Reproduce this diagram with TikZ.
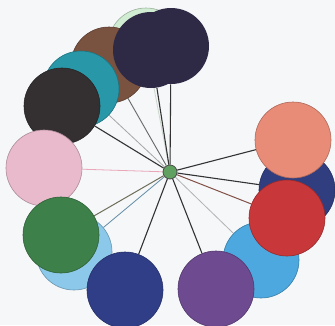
\documentclass[tikz,border=0pt]{standalone}
\pgfdeclarelayer{paper}
\pgfdeclarelayer{bg}
\pgfsetlayers{paper,bg,main}
\definecolor{paper}{RGB}{245,247,249}
\definecolor{cnavytop}{RGB}{46,42,70}
\definecolor{cbrown}{RGB}{122,82,64}
\definecolor{cteal}{RGB}{40,152,168}
\definecolor{cchar}{RGB}{52,48,50}
\definecolor{cpink}{RGB}{232,186,204}
\definecolor{cgreen}{RGB}{62,128,74}
\definecolor{cltblue}{RGB}{140,200,234}
\definecolor{cnavybot}{RGB}{48,62,136}
\definecolor{cpurple}{RGB}{110,74,144}
\definecolor{cskyblue}{RGB}{76,168,222}
\definecolor{cred}{RGB}{200,56,58}
\definecolor{cnavyright}{RGB}{48,62,128}
\definecolor{csalmon}{RGB}{232,140,120}
\definecolor{cltgreen}{RGB}{208,236,210}
\definecolor{chub}{RGB}{96,160,96}
\tikzset{
  ball/.style={circle, minimum size=76pt, inner sep=0pt, fill=#1, draw=#1!75!black, line width=0.6pt},
  darkline/.style={draw=black!80, line width=1.1pt},
  midline/.style={draw=black!60, line width=0.9pt},
  paleline/.style={draw=#1, line width=0.8pt},
}
\begin{document}
\begin{tikzpicture}[x=1pt,y=-1pt]
\begin{pgfonlayer}{paper}
\fill[paper] (0,0) rectangle (335,325);
\end{pgfonlayer}
\useasboundingbox (0,0) rectangle (335,325);
% back circles first
\node[ball=cltgreen] (lg) at (146,46) {};
\node[ball=cbrown] (br) at (109,65) {};
\node[ball=cteal] (te) at (81,89) {};
\node[ball=cchar] (ch) at (62,106) {};
\node[ball=cnavytop, draw=none] (na) at (151,50) {};
\node[ball=cnavytop, draw=none] (nb) at (171,46) {};
\node[ball=cpink] (pk) at (44,168) {};
\node[ball=cltblue] (lb) at (74,252) {};
\node[ball=cgreen] (gr) at (61,235) {};
\node[ball=cnavybot] (nv) at (125,290) {};
\node[ball=cskyblue] (sb) at (261,260) {};
\node[ball=cpurple] (pu) at (216,289) {};
\node[ball=cnavyright] (nr) at (297,190) {};
\node[ball=cred] (rd) at (287,218) {};
\node[ball=csalmon] (sa) at (293,140) {};
% hub
\node[circle, minimum size=14pt, inner sep=0pt, fill=chub, draw=black!70, line width=0.8pt] (hub) at (170,172) {};
\begin{pgfonlayer}{bg}
\draw[paleline={cltgreen!80!black!60}] (hub) -- (lg);
\draw[midline] (hub) -- (br);
\draw[paleline=black!35] (hub) -- (te);
\draw[darkline] (hub) -- (ch);
\draw[darkline] (hub) -- (na);
\draw[darkline] (hub) -- (nb);
\draw[paleline={cpink!90!red}] (hub) -- (pk);
\draw[paleline={black!30!cltblue}] (hub) -- (lb);
\draw[draw={rgb,255:red,110;green,110;blue,90}, line width=1pt] (hub) -- (gr);
\draw[darkline] (hub) -- (nv);
\draw[darkline] (hub) -- (pu);
\draw[paleline=black!30] (hub) -- (sb);
\draw[draw={rgb,255:red,130;green,80;blue,70}, line width=1pt] (hub) -- (rd);
\draw[darkline] (hub) -- (nr);
\draw[darkline] (hub) -- (sa);
\end{pgfonlayer}
\end{tikzpicture}
\end{document}
